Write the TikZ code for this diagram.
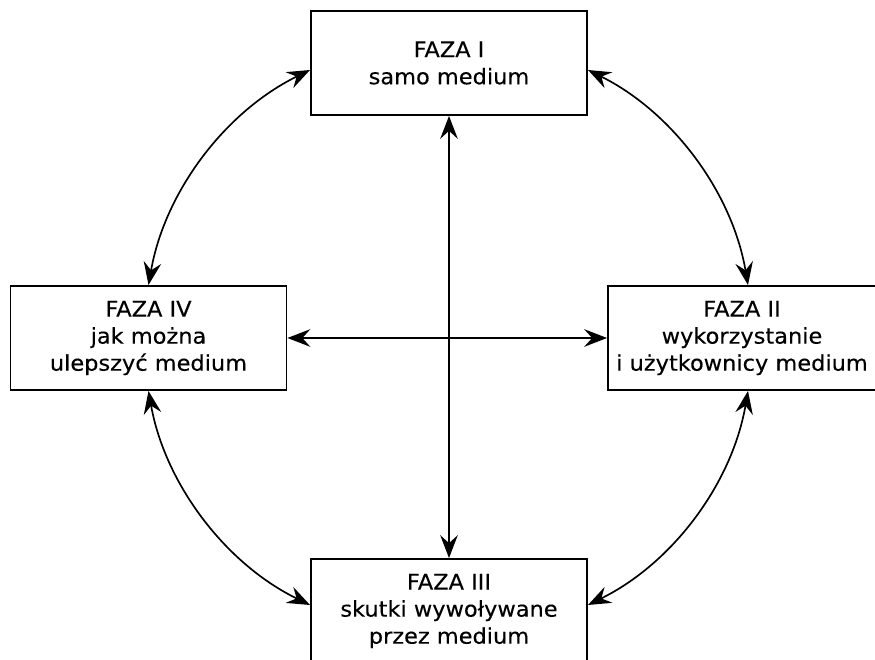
\documentclass[tikz,border=0pt]{standalone}
\usepackage{fontspec}
\setmainfont[FakeStretch=1.04, FakeBold=0.3]{DejaVu Sans}
\usetikzlibrary{arrows.meta}
\tikzset{
  faza/.style={draw, line width=1.1pt, align=center, inner sep=1pt,
    minimum width=5.52cm, minimum height=2.08cm,
    font=\fontsize{12.3}{15.4}\selectfont},
  lien/.style={line width=0.95pt,
    {Stealth[length=13pt, width=10pt, inset=4.5pt]}-{Stealth[length=13pt, width=10pt, inset=4.5pt]}}
}
\begin{document}
\begin{tikzpicture}[x=0.02cm, y=0.02cm]
    \clip (0,0) rectangle (875,659);

    % Centres des quatre phases
    \coordinate (C1) at (449, 596);
    \coordinate (C2) at (742, 321);
    \coordinate (C3) at (449, 48);
    \coordinate (C4) at (148.5, 321);

    % Les phases
    \node[faza] (f1) at (C1) {FAZA I\\samo medium};
    \node[faza, minimum width=5.36cm] (f2) at (C2) {FAZA II\\wykorzystanie\\i użytkownicy medium};
    \node[faza] (f3) at (C3) {FAZA III\\skutki wywoływane\\przez medium};
    \node[faza] (f4) at (C4) {FAZA IV\\jak można\\ulepszyć medium};

    % Liaisons en croix
    \draw[lien] (f1) -- (f3);
    \draw[lien] (f4) -- (f2);

    % Arcs du cercle extérieur
    \draw[lien] ([yshift=-0.14cm]f1.west) to[bend right=27, looseness=0.9] (f4.north);
    \draw[lien] ([yshift=-0.14cm]f1.east) to[bend left=27, looseness=0.9] ([xshift=0.12cm]f2.north);
    \draw[lien] (f4.south) to[bend right=27, looseness=0.9] ([yshift=0.12cm]f3.west);
    \draw[lien] ([xshift=0.12cm]f2.south) to[bend left=27, looseness=0.9] ([yshift=0.12cm]f3.east);
\end{tikzpicture}
\end{document}
